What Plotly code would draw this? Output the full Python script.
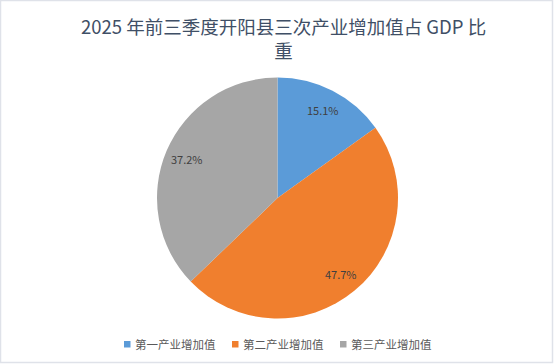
import math
import plotly.graph_objects as go

categories = ["第一产业增加值", "第二产业增加值", "第三产业增加值"]
values = [15.1, 47.7, 37.2]
colors = ["#5b9bd8", "#f07f2e", "#a6a6a6"]
title_text = "2025 年前三季度开阳县三次产业增加值占 GDP 比<br>重"

W, H = 556, 364
cxp, cyp, rp = 277.5, 198, 120.5  # pie centre / radius in pixels
dom_x = [(cxp - rp) / W, (cxp + rp) / W]
dom_y = [(H - cyp - rp) / H, (H - cyp + rp) / H]

fig = go.Figure()
fig.add_trace(go.Pie(
    labels=categories,
    values=values,
    marker=dict(colors=colors, line=dict(width=0)),
    sort=False,
    direction="clockwise",
    rotation=0,
    textinfo="none",
    hoverinfo="label+percent",
    domain=dict(x=dom_x, y=dom_y),
    showlegend=False,
))

annotations = []
# data labels positioned from slice mid-angles
total = sum(values)
cum = 0
for v in values:
    mid = (cum + v / 2) / total * 2 * math.pi
    cum += v
    px = cxp + 0.82 * rp * math.sin(mid)
    py = cyp - 0.82 * rp * math.cos(mid)
    annotations.append(dict(
        x=px / W, y=1 - py / H, xref="paper", yref="paper",
        text=f"{v:.1f}%", showarrow=False,
        xanchor="center", yanchor="middle",
        font=dict(size=11, color="#404040", family="Noto Sans CJK SC"),
    ))

# title
annotations.append(dict(
    x=283.5 / W, y=1 - 38 / H, xref="paper", yref="paper",
    text=title_text, showarrow=False, align="center",
    xanchor="center", yanchor="middle",
    font=dict(size=18.5, color="#3f4f66", family="Noto Sans CJK SC"),
))

# legend (custom, small square markers)
shapes = []
leg_y = 344
for i, (name, col) in enumerate(zip(categories, colors)):
    mx = 124 + i * 108
    shapes.append(dict(
        type="rect", xref="paper", yref="paper",
        x0=mx / W, x1=(mx + 6.5) / W,
        y0=1 - (leg_y + 3.5) / H, y1=1 - (leg_y - 3) / H,
        fillcolor=col, line=dict(width=0),
    ))
    annotations.append(dict(
        x=(mx + 9) / W, y=1 - leg_y / H, xref="paper", yref="paper",
        text=name, showarrow=False, xanchor="left", yanchor="middle",
        font=dict(size=11.5, color="#595959", family="Noto Sans CJK SC"),
    ))

shapes.append(dict(
    type="rect", xref="paper", yref="paper",
    x0=0.5 / W, y0=1 - 362.5 / H, x1=552.5 / W, y1=1 - 0.5 / H,
    line=dict(color="#dfe2e9", width=1.5),
))

fig.update_layout(
    width=W, height=H,
    margin=dict(l=0, r=0, t=0, b=0),
    paper_bgcolor="white",
    plot_bgcolor="white",
    showlegend=False,
    annotations=annotations,
    shapes=shapes,
)

fig.write_html(
    "out.html",
    config={"displayModeBar": False},
    post_script="document.body.style.margin='0';document.body.style.padding='0';",
)
